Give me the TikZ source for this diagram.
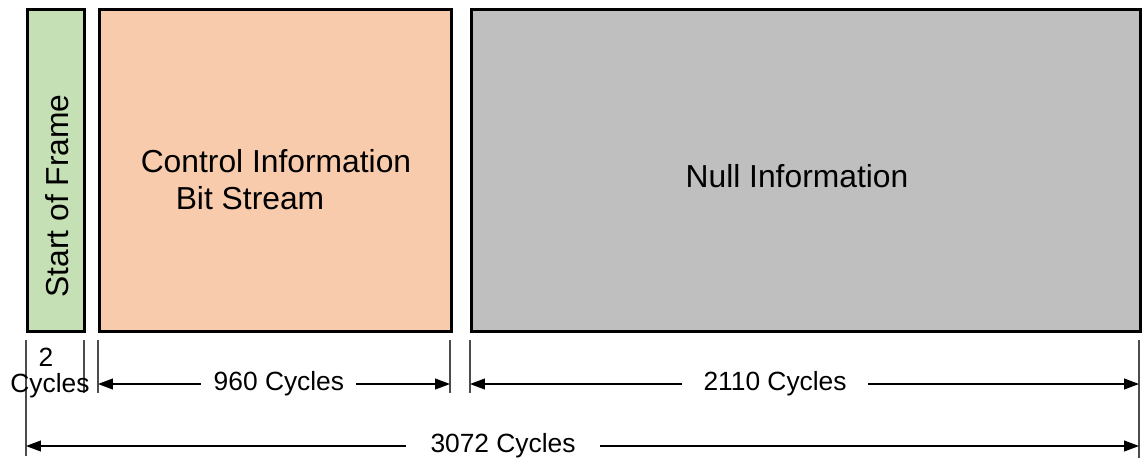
\documentclass[tikz,border=0pt]{standalone}
\usepackage{fontspec}
\setmainfont{Liberation Sans}
\usetikzlibrary{arrows.meta}
\definecolor{sofgreen}{HTML}{C5E0B4}
\definecolor{ctlorange}{HTML}{F8CBAD}
\definecolor{nullgray}{HTML}{BFBFBF}
\newcommand{\bigtxt}{\fontsize{18.1}{20}\selectfont}
\newcommand{\dimtxt}{\fontsize{15}{16}\selectfont}

\begin{document}
\begin{tikzpicture}[x=0.02cm,y=-0.02cm,
    field/.style={draw,line width=1.7pt,inner sep=0pt,anchor=north west,
      minimum height=6.44cm},
    tick/.style={draw=black!70,line width=1.1pt},
    dim/.style={{Triangle[length=8.5pt,width=6.2pt]}-{Triangle[length=8.5pt,width=6.2pt]},
      line width=0.7pt},
    dimlabel/.style={fill=white,inner xsep=7pt,inner ysep=1pt,font=\dimtxt}
  ]
  \useasboundingbox (0,0) rectangle (1143,458);
  % frame fields
  \node[field,fill=sofgreen,minimum width=1.14cm] (sof) at (26,8) {};
  \node[field,fill=ctlorange,minimum width=7.04cm] (ctl) at (98,8) {};
  \node[field,fill=nullgray,minimum width=13.38cm] (null) at (470,8) {};
  \node[rotate=90,font=\bigtxt] (softxt) at (57.5,196) {Start of Frame};
  \node[font=\bigtxt] (ctltxt) at (276,161) {Control Information};
  \node[font=\bigtxt] (bittxt) at (250,198) {Bit Stream};
  \node[font=\bigtxt] (nulltxt) at (797,176) {Null Information};
  % extension lines
  \foreach \n/\x/\y in {a/26/456,b/84/393,c/98/393,d/450/393,e/470/393,f/1139/458}{
    \coordinate (\n top) at (\x,340);
    \coordinate (\n bot) at (\x,\y);
    \draw[tick] (\n top) -- (\n bot);
  }
  % dimensions
  \node[font=\dimtxt] (two) at (46,357) {2};
  \node[font=\dimtxt] (twocyc) at (50,386) {Cycles};
  \coordinate (ctlL) at (98,384);
  \coordinate (ctlR) at (450,384);
  \coordinate (nullL) at (470,384);
  \coordinate (nullR) at (1139,384);
  \coordinate (allL) at (26,446);
  \coordinate (allR) at (1139,446);
  \draw[dim] (ctlL) -- node[dimlabel,pos=0.514] (ctldim) {960 Cycles} (ctlR);
  \draw[dim] (nullL) -- node[dimlabel,pos=0.456,inner xsep=12pt] (nulldim) {2110 Cycles} (nullR);
  \draw[dim] (allL) -- node[dimlabel,pos=0.4286,inner xsep=14pt] (alldim) {3072 Cycles} (allR);
\end{tikzpicture}
\end{document}
